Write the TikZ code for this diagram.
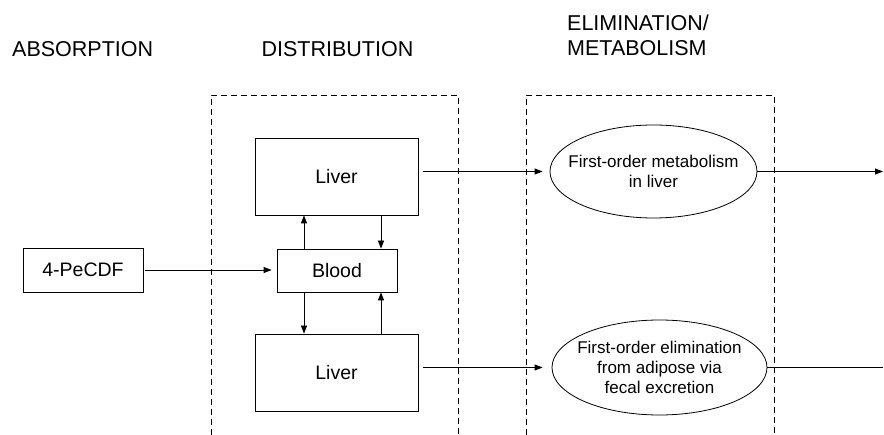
\documentclass[tikz,border=0pt]{standalone}
\usepackage{fontspec}
\setmainfont{Liberation Sans}
\usetikzlibrary{shapes.geometric,arrows.meta}

\tikzset{
  head/.style={font=\fontsize{21.5}{25}\selectfont, inner sep=0pt},
  cbox/.style={draw, line width=0.8pt, font=\fontsize{19.5}{23}\selectfont, inner sep=0pt},
  proc/.style={draw, ellipse, line width=0.8pt, inner xsep=-20pt, inner ysep=-8pt, align=center, font=\fontsize{17}{20}\selectfont},
  frame/.style={dash pattern=on 6pt off 4pt, line width=0.8pt},
  arr/.style={-{Triangle[length=8pt,width=6pt]}, line width=0.8pt},
  ln/.style={line width=0.8pt}
}

\begin{document}
\begin{tikzpicture}[x=1pt,y=-1pt]
  \useasboundingbox (0,0) rectangle (884,435);
  % Titres des colonnes
  \node[head, anchor=base west] (habs) at (12,57) {ABSORPTION};
  \node[head, anchor=base] (hdist) at (337.5,57) {DISTRIBUTION};
  \node[head, anchor=north west, align=left] (helim) at (567,15) {ELIMINATION/\\METABOLISM};
  % Cadres pointillés (ouverts en bas)
  \draw[frame] (211,435) |- (458,95) -- (458,435);
  \draw[frame] (526,435) |- (774,95) -- (774,435);
  % Compartiments
  \node[cbox, minimum width=163pt, minimum height=77pt] (livtop) at (336.5,176.5) {Liver};
  \node[cbox, minimum width=120pt, minimum height=43pt] (blood) at (337,270.5) {Blood};
  \node[cbox, minimum width=163pt, minimum height=77pt] (livbot) at (336.5,372.5) {Liver};
  \node[cbox, minimum width=120pt, minimum height=44pt] (dose) at (83,270) {4-PeCDF};
  % Élimination
  \node[proc, minimum width=207pt, minimum height=93pt] (metab) at (653.5,171.5) {First-order metabolism\\in liver};
  \node[proc, minimum width=215pt, minimum height=95pt] (fecal) at (659.5,367.5) {First-order elimination\\from adipose via\\fecal excretion};
  % Échanges sang / tissus
  \coordinate (upx) at (304,0);
  \coordinate (dnx) at (381,0);
  \coordinate (rim) at (883,0);
  \draw[arr] (blood.north -| upx) -- (livtop.south -| upx);
  \draw[arr] (livtop.south -| dnx) -- (blood.north -| dnx);
  \draw[arr] (blood.south -| upx) -- (livbot.north -| upx);
  \draw[arr] (livbot.north -| dnx) -- (blood.south -| dnx);
  % Entrée et sorties
  \draw[arr, shorten <=2pt, shorten >=5pt] (dose.east) -- (dose.east -| blood.west);
  \draw[arr, shorten <=5pt, shorten >=7pt] (metab.west -| livtop.east) -- (metab.west);
  \draw[arr] (metab.east) -- (metab.east -| rim);
  \draw[arr, shorten <=5pt, shorten >=9pt] (fecal.west -| livbot.east) -- (fecal.west);
  \draw[ln] (fecal.east) -- (fecal.east -| rim);
\end{tikzpicture}
\end{document}
